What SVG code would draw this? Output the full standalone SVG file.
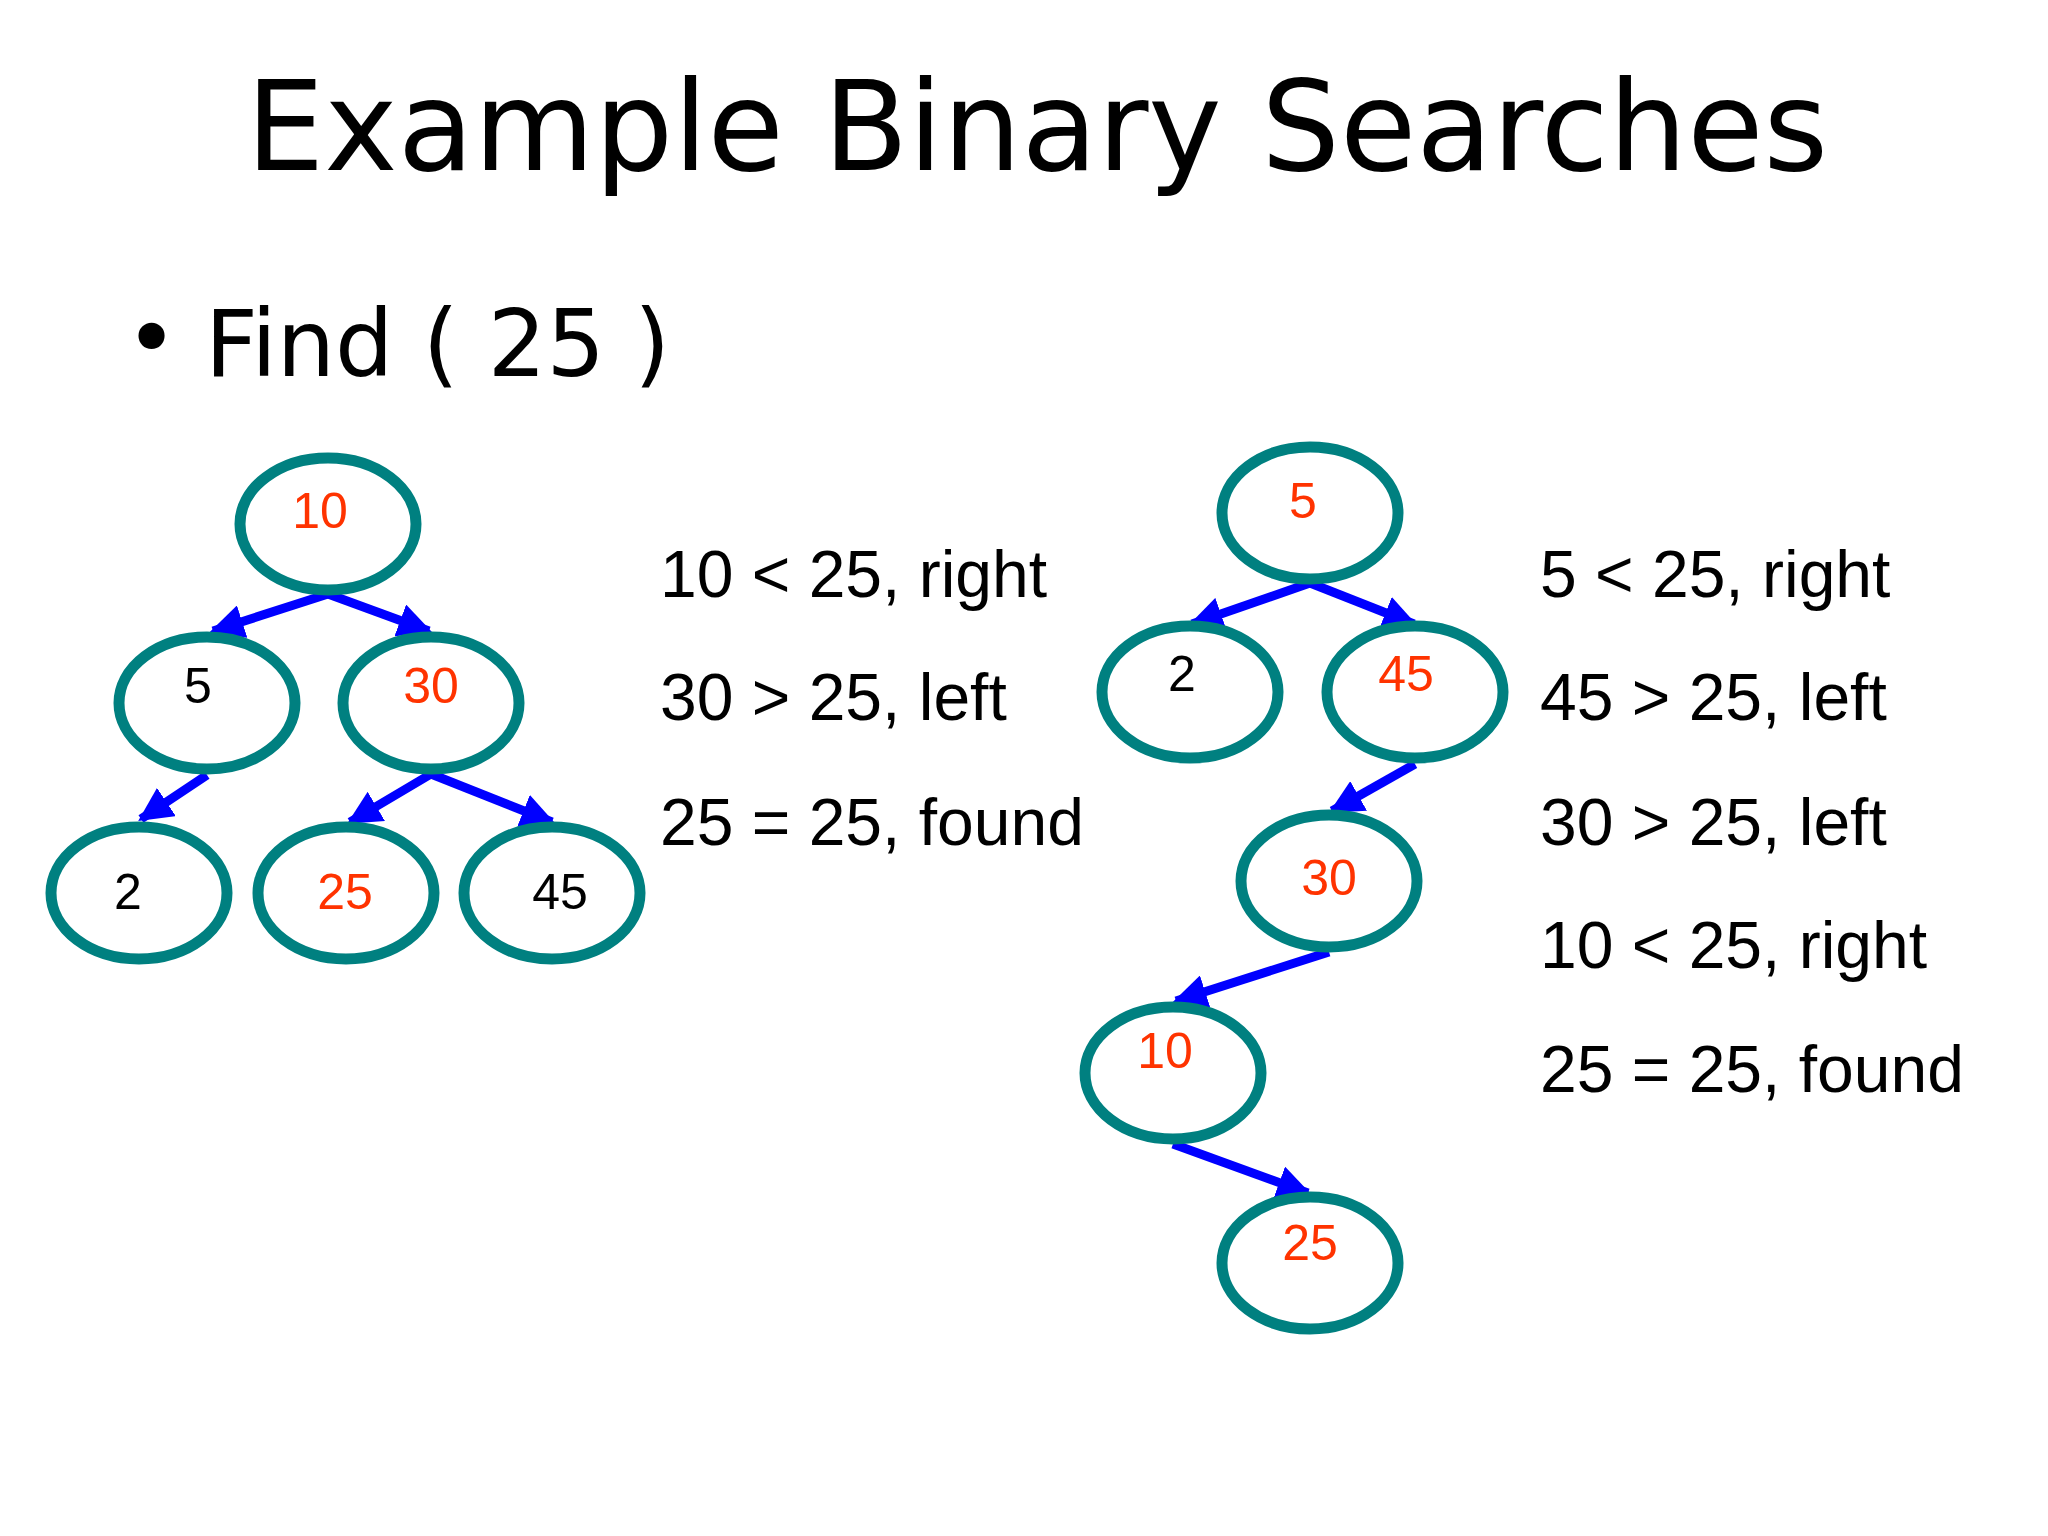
<svg xmlns="http://www.w3.org/2000/svg" width="2048" height="1536" viewBox="0 0 2048 1536">
<defs>
<marker id="ah" viewBox="0 0 10 10" refX="9" refY="5" markerWidth="34" markerHeight="34" markerUnits="userSpaceOnUse" orient="auto"><path d="M0,0 L10,5 L0,10 z" fill="#0000FF"/></marker>
</defs>
<style>
.n{fill:#fff;stroke:#008080;stroke-width:11}
.l{font-family:"Liberation Sans",Arial,sans-serif;font-size:50px;text-anchor:middle}
.r{fill:#FF3300}.k{fill:#000}
.e{stroke:#0000FF;stroke-width:9;fill:none;marker-end:url(#ah)}
.t{font-family:"Liberation Sans",Arial,sans-serif;font-size:66px;fill:#000}
.h{font-family:"DejaVu Sans",sans-serif;fill:#000}
</style>
<rect width="2048" height="1536" fill="#fff"/>
<text class="h" x="1037" y="170" font-size="124" text-anchor="middle">Example Binary Searches</text>
<text class="h" x="125" y="370" font-size="90">•</text>
<text class="h" x="205" y="376" font-size="92">Find ( 25 )</text>
<g id="connectors">
<line class="e" x1="328" y1="594" x2="213" y2="631"/>
<line class="e" x1="328" y1="594" x2="429" y2="631"/>
<line class="e" x1="207" y1="775" x2="141" y2="819"/>
<line class="e" x1="431" y1="774" x2="350" y2="822"/>
<line class="e" x1="431" y1="774" x2="552" y2="822"/>
<line class="e" x1="1310" y1="583" x2="1192" y2="624"/>
<line class="e" x1="1310" y1="583" x2="1414" y2="624"/>
<line class="e" x1="1415" y1="764" x2="1332" y2="811"/>
<line class="e" x1="1329" y1="952" x2="1176" y2="1001"/>
<line class="e" x1="1173" y1="1144" x2="1308" y2="1193"/>
</g>
<g id="L10"><ellipse class="n" cx="328" cy="524" rx="88" ry="66"/><text class="l r" x="320" y="528">10</text></g>
<g id="L5"><ellipse class="n" cx="207" cy="703" rx="88" ry="66"/><text class="l k" x="198" y="703">5</text></g>
<g id="L30"><ellipse class="n" cx="431" cy="703" rx="88" ry="66"/><text class="l r" x="431" y="703">30</text></g>
<g id="L2"><ellipse class="n" cx="139" cy="893" rx="88" ry="66"/><text class="l k" x="128" y="909">2</text></g>
<g id="L25"><ellipse class="n" cx="346" cy="893" rx="88" ry="66"/><text class="l r" x="345" y="909">25</text></g>
<g id="L45"><ellipse class="n" cx="552" cy="893" rx="88" ry="66"/><text class="l k" x="560" y="909">45</text></g>
<g id="R5"><ellipse class="n" cx="1310" cy="513" rx="88" ry="66"/><text class="l r" x="1303" y="518">5</text></g>
<g id="R2"><ellipse class="n" cx="1190" cy="692" rx="88" ry="66"/><text class="l k" x="1182" y="691">2</text></g>
<g id="R45"><ellipse class="n" cx="1415" cy="692" rx="88" ry="66"/><text class="l r" x="1406" y="691">45</text></g>
<g id="R30"><ellipse class="n" cx="1329" cy="881" rx="88" ry="66"/><text class="l r" x="1329" y="895">30</text></g>
<g id="R10"><ellipse class="n" cx="1173" cy="1073" rx="88" ry="66"/><text class="l r" x="1165" y="1068">10</text></g>
<g id="R25"><ellipse class="n" cx="1310" cy="1263" rx="88" ry="66"/><text class="l r" x="1310" y="1260">25</text></g>
<text class="t" x="660" y="597">10 &lt; 25, right</text>
<text class="t" x="660" y="720">30 &gt; 25, left</text>
<text class="t" x="660" y="845">25 = 25, found</text>
<text class="t" x="1540" y="597">5 &lt; 25, right</text>
<text class="t" x="1540" y="720">45 &gt; 25, left</text>
<text class="t" x="1540" y="845">30 &gt; 25, left</text>
<text class="t" x="1540" y="968">10 &lt; 25, right</text>
<text class="t" x="1540" y="1092">25 = 25, found</text>
</svg>
